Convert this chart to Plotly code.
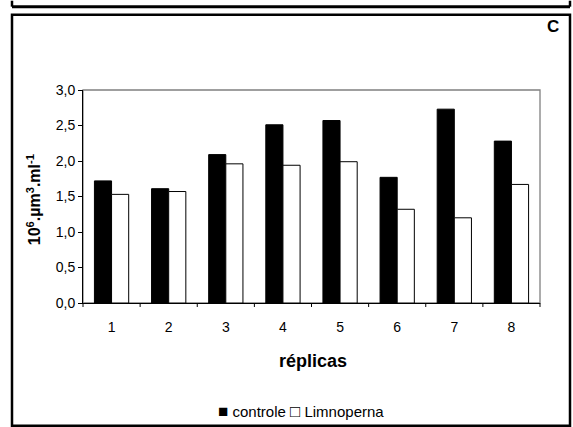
import plotly.graph_objects as go

categories = ["1", "2", "3", "4", "5", "6", "7", "8"]
controle = [1.72, 1.61, 2.09, 2.51, 2.57, 1.77, 2.73, 2.28]
limnoperna = [1.53, 1.57, 1.96, 1.94, 1.99, 1.32, 1.20, 1.67]
y_ticks = [0.0, 0.5, 1.0, 1.5, 2.0, 2.5, 3.0]
legend_names = ["controle", "Limnoperna"]

W, H = 573, 427
L, R, T, B = 83, 33, 89.5, 124
pw, ph = W - L - R, H - T - B

def px(x):
    return (x - L) / pw

def py(y):
    return (H - B - y) / ph

font = "Liberation Sans, Arial, sans-serif"

fig = go.Figure()
fig.add_trace(go.Bar(x=categories, y=controle, name=legend_names[0],
                     marker=dict(color="black", line=dict(color="black", width=1))))
fig.add_trace(go.Bar(x=categories, y=limnoperna, name=legend_names[1],
                     marker=dict(color="white", line=dict(color="black", width=1))))

shapes = [
    dict(type="rect", xref="paper", yref="paper", x0=0, y0=0, x1=1, y1=1,
         line=dict(color="#808080", width=1.3), layer="below"),
    dict(type="rect", xref="paper", yref="paper", x0=px(12), y0=py(426), x1=px(570), y1=py(14),
         line=dict(color="black", width=2.5)),
    dict(type="line", xref="paper", yref="paper", x0=px(12), y0=py(6), x1=px(570), y1=py(6),
         line=dict(color="black", width=3)),
    dict(type="line", xref="paper", yref="paper", x0=px(12), y0=py(0), x1=px(12), y1=py(6),
         line=dict(color="black", width=2.5)),
    dict(type="line", xref="paper", yref="paper", x0=px(570), y0=py(0), x1=px(570), y1=py(6),
         line=dict(color="black", width=2.5)),
]
for i in range(len(categories) + 1):
    xv = i / len(categories)
    shapes.append(dict(type="line", xref="paper", yref="paper", x0=xv, x1=xv,
                       y0=0, y1=py(H - B + 4), line=dict(color="black", width=1)))

legend_text = ("<span style='font-size:17px'>■</span> " + legend_names[0] +
               " <span style='font-size:17px'>□</span> " + legend_names[1])

annotations = [
    dict(text="<b>C</b>", xref="paper", yref="paper", x=px(553), y=py(26),
         showarrow=False, font=dict(family=font, size=17, color="black"),
         xanchor="center", yanchor="middle"),
    dict(text="<b>10<sup>6</sup>.µm<sup>3</sup>.ml<sup>-1</sup></b>", xref="paper", yref="paper",
         x=px(34), y=py(200), textangle=-90, showarrow=False,
         font=dict(family=font, size=16, color="black"),
         xanchor="center", yanchor="middle"),
    dict(text="<b>réplicas</b>", xref="paper", yref="paper", x=px(313), y=py(361),
         showarrow=False, font=dict(family=font, size=18, color="black"),
         xanchor="center", yanchor="middle"),
    dict(text=legend_text, xref="paper", yref="paper", x=px(301), y=py(412),
         showarrow=False, font=dict(family=font, size=15, color="black"),
         xanchor="center", yanchor="middle"),
]

fig.update_layout(
    width=W, height=H,
    margin=dict(l=L, r=R, t=T, b=B),
    paper_bgcolor="white", plot_bgcolor="white",
    barmode="group", bargap=0.4, bargroupgap=0,
    separators=",.",
    font=dict(family=font, size=14, color="black"),
    showlegend=False,
    shapes=shapes,
    annotations=annotations,
)
fig.update_xaxes(showline=True, linecolor="black", linewidth=1,
                 ticks="outside", ticklen=11, tickcolor="rgba(0,0,0,0)",
                 tickfont=dict(family=font, size=14, color="black"),
                 showgrid=False)
fig.update_yaxes(range=[0, 3.0], tickvals=y_ticks, tickformat=".1f",
                 showline=True, linecolor="black", linewidth=1,
                 ticks="outside", ticklen=4, tickcolor="black",
                 tickfont=dict(family=font, size=14, color="black"),
                 showgrid=False, zeroline=False)

fig.write_html("out.html", config={"displayModeBar": False},
               post_script="document.body.style.margin='0';document.body.style.overflow='hidden';")
